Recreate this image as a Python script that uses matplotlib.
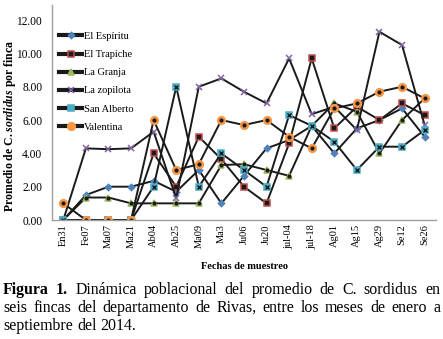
import numpy as np
import matplotlib
matplotlib.use('Agg')
import matplotlib.pyplot as plt

plt.rcParams['font.family'] = ['Liberation Serif', 'DejaVu Serif']
plt.rcParams['mathtext.fontset'] = 'custom'
plt.rcParams['mathtext.bfit'] = 'Liberation Serif:italic:bold'
plt.rcParams['mathtext.rm'] = 'Liberation Serif'

fechas = ['En31', 'Fe07', 'Ma07', 'Ma21', 'Ab04', 'Ab25', 'Ma09', 'Ma3', 'Ju06', 'Ju20',
          'jul-04', 'jul-18', 'Ag01', 'Ag15', 'Ag29', 'Se12', 'Se26']

el_espiritu = [0, 1.5, 2.0, 2.0, 2.35, 1.7, 3.0, 1.0, 2.65, 4.3, 4.8, 5.65, 4.0, 5.5, 6.0, 6.7, 5.0]
el_trapiche = [0, 0, 0, 0, 4.0, 2.0, 5.0, 3.65, 2.0, 1.0, 4.6, 9.7, 5.5, 6.8, 6.0, 7.0, 6.3]
la_granja = [0, 1.35, 1.35, 1.0, 1.0, 1.0, 1.0, 3.3, 3.35, 3.0, 2.65, 5.65, 7.0, 6.5, 4.0, 6.0, 7.3]
la_zopilota = [0, 4.3, 4.25, 4.3, 5.3, 1.3, 8.0, 8.5, 7.7, 7.0, 9.7, 6.35, 6.8, 5.4, 11.3, 10.5, 5.7]
san_alberto = [0, 0, 0, 0, 2.0, 8.0, 2.0, 4.0, 3.0, 2.0, 6.3, 5.65, 4.7, 3.0, 4.4, 4.4, 5.4]
valentina = [1.0, 0, 0, 0, 6.0, 3.0, 3.35, 6.0, 5.7, 6.0, 5.0, 4.3, 6.7, 7.0, 7.7, 8.0, 7.3]

caption = [
    (['Figura', '1.'], 'Dinámica poblacional del promedio de C. sordidus en', True),
    ([], 'seis fincas del departamento de Rivas, entre los meses de enero a', True),
    ([], 'septiembre del 2014.', False),
]

x = np.arange(len(fechas))

fig = plt.figure(figsize=(4.43, 3.39), dpi=100)
ax = fig.add_axes([0.1174, 0.351, 0.8666, 0.634])

# (label, data, marker, face, edge, size, inner mark)
series = [
    ('El Espíritu', el_espiritu, 'D', '#4f81bd', '#4f81bd', 3.2, None),
    ('El Trapiche', el_trapiche, 's', '#1a1a1a', '#c0504d', 5, None),
    ('La Granja', la_granja, '^', '#9bbb59', '#9bbb59', 5, '.'),
    ('La zopilota', la_zopilota, 'x', '#8064a2', '#8064a2', 4.5, None),
    ('San Alberto', san_alberto, 's', '#4bacc6', '#4bacc6', 5, 'x'),
    ('Valentina', valentina, 'o', '#f79646', '#f79646', 5.5, '.'),
]

for lab, vals, m, fc, ec, ms, inner in series:
    ax.plot(x, vals, color='#1a1a1a', lw=1.4, marker=m, markersize=ms,
            markerfacecolor=fc, markeredgecolor=ec, markeredgewidth=1.1, label=lab)
    if inner == '.':
        ax.plot(x, vals, ls='none', marker='o', markersize=2, color='#1a1a1a')
    elif inner == 'x':
        ax.plot(x, vals, ls='none', marker='x', markersize=3.2, mew=1, color='#1a1a1a')

ax.set_xlim(-0.5, 16.5)
ax.set_ylim(0, 12.9)
ax.set_yticks(np.arange(0, 13, 2))
ax.set_yticklabels(['%.2f' % v for v in np.arange(0, 13, 2)], fontsize=8.3)
ax.set_xticks(x)
ax.set_xticklabels(fechas, rotation=90, fontsize=7.5)
ax.tick_params(axis='x', length=0, pad=3)
ax.tick_params(axis='y', length=0, pad=7)
for s in ['top', 'right']:
    ax.spines[s].set_visible(False)
for s in ['left', 'bottom']:
    ax.spines[s].set_color('#a0a0a0')
    ax.spines[s].set_linewidth(1)

ax.set_ylabel(r'Promedio de C. $\mathbfit{sordidus}$ por finca', fontsize=8.5,
              fontweight='bold')
ax.yaxis.set_label_coords(-0.088, 0.44)

leg = ax.legend(loc='upper left', bbox_to_anchor=(0.0, 0.91), frameon=False,
                fontsize=7.5, handlelength=2.2, handletextpad=0.2, labelspacing=0.85,
                borderaxespad=0.3)
for ln in leg.get_lines():
    ln.set_linewidth(3)

fig.text(0.553, 0.213, 'Fechas de muestreo', fontsize=7.5, fontweight='bold',
         ha='center', va='center')

# justified caption, word by word
fs = 11.4
left_px, right_px = 3, 440
fig.canvas.draw()
rend = fig.canvas.get_renderer()
probe1 = fig.text(0, 0, 'a b', fontsize=fs)
probe2 = fig.text(0, 0, 'ab', fontsize=fs)
space = probe1.get_window_extent(rend).width - probe2.get_window_extent(rend).width
probe1.remove()
probe2.remove()
ys = [0.1445, 0.0914, 0.038]
for (bold_words, rest, justify), yf in zip(caption, ys):
    words = [(w, 'bold') for w in bold_words] + [(w, 'normal') for w in rest.split()]
    arts = [fig.text(0, yf, w, fontsize=fs, fontweight=fw, va='center') for w, fw in words]
    widths = [a.get_window_extent(rend).width for a in arts]
    if justify and len(arts) > 1:
        gap = (right_px - left_px - sum(widths)) / (len(arts) - 1)
    else:
        gap = space
    xp = left_px
    for a, w in zip(arts, widths):
        a.set_x(xp / fig.bbox.width)
        xp += w + gap

fig.savefig('out.png', dpi=100)
